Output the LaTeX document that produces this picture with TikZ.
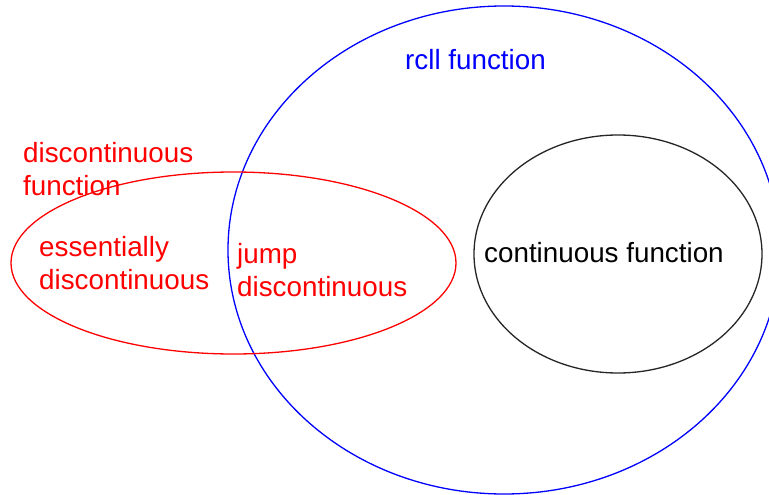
\documentclass[tikz,border=0pt]{standalone}
\usepackage{fontspec}
\setmainfont{Liberation Sans}
\begin{document}
\begin{tikzpicture}[x=1pt,y=-1pt,
  lbl/.style={inner sep=0pt, anchor=base west, align=left,
    font=\fontsize{27.8pt}{32.5pt}\selectfont},
  ring/.style={line width=1.3pt}]
\useasboundingbox (0,0) rectangle (769,495);
\clip (0,0) rectangle (769,495);
\fill[white] (0,0) rectangle (769,495);
\draw[ring, blue] (504,250) ellipse [x radius=276, y radius=244];
\draw[ring, red] (233.5,263) ellipse [x radius=222.5, y radius=91];
\draw[ring, black!85] (618,254) ellipse [x radius=144, y radius=119];
\node[lbl, text=blue] (rcll) at (405,70) {rcll function};
\node[lbl, text=red] (disc) at (23,195) {discontinuous\\function};
\node[lbl, text=red] (ess) at (39,289) {essentially\\discontinuous};
\node[lbl, text=red] (jump) at (237,296) {jump\\discontinuous};
\node[lbl, text=black] (cont) at (484,262) {continuous function};
\end{tikzpicture}
\end{document}
